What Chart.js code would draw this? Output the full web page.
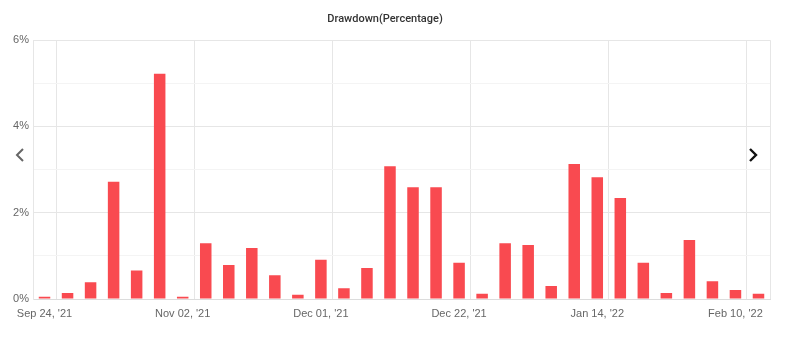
<!DOCTYPE html>
<html>
<head>
<meta charset="utf-8">
<script src="https://cdn.jsdelivr.net/npm/chart.js@4/dist/chart.umd.min.js"></script>
<style>
  html, body { margin: 0; padding: 0; background: #fff; }
  #wrap { position: relative; width: 788px; height: 355px; }
  canvas { display: block; }
  .nav { position: absolute; top: 147px; width: 12px; height: 16px; }
</style>
</head>
<body>
<div id="wrap">
  <canvas id="c" width="788" height="355"></canvas>
  <svg class="nav" style="left:14px" viewBox="0 0 12 16"><polyline points="9,2 3,8 9,14" fill="none" stroke="#666" stroke-width="2"/></svg>
  <svg class="nav" style="left:747px" viewBox="0 0 12 16"><polyline points="3,2 9,8 3,14" fill="none" stroke="#111" stroke-width="2.4"/></svg>
</div>
<script>
// Categories (only the labelled dates are readable in the reference)
const categories = [
  "Sep 24, '21", "", "", "", "", "",
  "Nov 02, '21", "", "", "", "", "",
  "Dec 01, '21", "", "", "", "", "",
  "Dec 22, '21", "", "", "", "", "",
  "Jan 14, '22", "", "", "", "", "",
  "Feb 10, '22", ""
];
// Drawdown values in percent
const drawdown = [
  0.05, 0.14, 0.39, 2.72, 0.66, 5.22,
  0.05, 1.29, 0.79, 1.18, 0.55, 0.10,
  0.91, 0.25, 0.72, 3.08, 2.59, 2.59,
  0.84, 0.12, 1.29, 1.25, 0.30, 3.13,
  2.82, 2.34, 0.84, 0.14, 1.37, 0.41,
  0.21, 0.12
];
const yTickValues = [0, 2, 4, 6];

const gridMajor = '#e6e6e6';
const gridMinor = '#f4f4f4';

new Chart(document.getElementById('c'), {
  type: 'bar',
  data: {
    labels: categories,
    datasets: [{
      label: 'Drawdown',
      data: drawdown,
      backgroundColor: '#f94a50',
      borderWidth: 0,
      categoryPercentage: 1.0,
      barPercentage: 0.5
    }]
  },
  options: {
    responsive: false,
    animation: false,
    devicePixelRatio: 1,
    layout: { padding: { left: 0, right: 18, top: 1, bottom: 0 } },
    plugins: {
      legend: { display: false },
      tooltip: { enabled: false },
      title: {
        display: true,
        text: 'Drawdown(Percentage)',
        color: '#333',
        font: { family: 'Roboto', size: 11, weight: '500' },
        padding: { top: 12, bottom: 14 }
      }
    },
    scales: {
      x: {
        offset: true,
        grid: {
          offset: true,
          drawTicks: false,
          color: (ctx) => (ctx.index === undefined || ctx.index % 6 === 1) ? gridMajor : 'transparent'
        },
        border: { display: true, color: '#dcdcdc' },
        ticks: {
          autoSkip: false,
          maxRotation: 0,
          padding: 8,
          color: '#666',
          font: { family: 'Liberation Sans', size: 11 },
          callback: function(v, i) { return categories[i]; }
        },
        afterFit: (s) => { s.height = 56; }
      },
      y: {
        min: 0,
        max: 6,
        grid: {
          drawTicks: false,
          color: (ctx) => (ctx.tick && yTickValues.includes(ctx.tick.value)) ? gridMajor : gridMinor
        },
        border: { display: true, color: '#e6e6e6' },
        ticks: {
          stepSize: 1,
          padding: 4,
          color: '#666',
          font: { family: 'Liberation Sans', size: 11 },
          callback: (v) => yTickValues.includes(v) ? v + '%' : ''
        },
        afterFit: (s) => { s.width = 33; }
      }
    }
  }
});
</script>
</body>
</html>
